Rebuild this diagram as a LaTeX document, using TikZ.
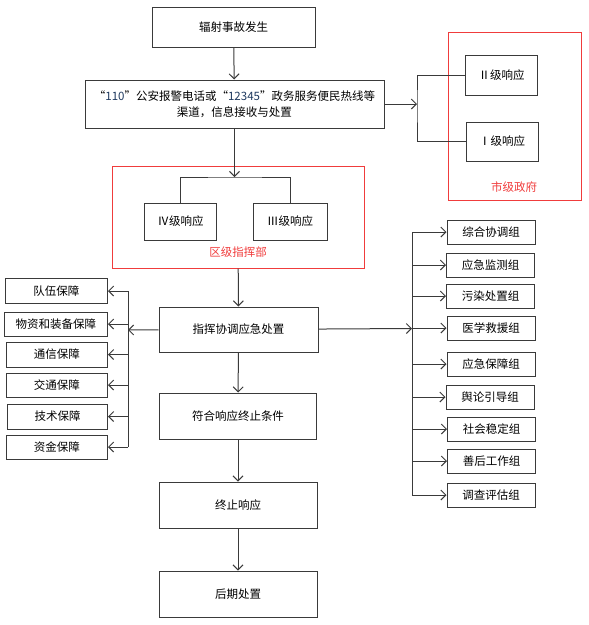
\documentclass[tikz,border=0pt]{standalone}
\usepackage{fontspec}
\setmainfont{Noto Sans CJK SC}
\definecolor{LineGray}{HTML}{3A3A3A}
\definecolor{FrameRed}{HTML}{F03C3C}
\definecolor{DigitBlue}{HTML}{1F3A60}
\usetikzlibrary{arrows.meta,positioning,calc}
\tikzset{
    % Plain boxes
    process/.style={
        rectangle,
        draw=LineGray,
        line width=1pt,
        fill=white,
        text=black,
        minimum width=158pt,
        minimum height=46pt,
        inner sep=0pt,
        align=center,
        font=\fontsize{11.5}{16}\selectfont
    },
    level box/.style={
        process,
        minimum width=72pt,
        minimum height=38pt
    },
    group box/.style={
        process,
        minimum width=88pt,
        minimum height=24pt
    },
    support box/.style={
        process,
        minimum width=102pt,
        minimum height=25pt,
        anchor=east
    },
    region box/.style={
        rectangle,
        draw=FrameRed,
        line width=1pt,
        inner sep=0pt
    },
    region label/.style={
        text=FrameRed,
        inner sep=0pt,
        font=\fontsize{11.5}{14}\selectfont
    },
    arrow/.style={
        -{Straight Barb[length=5pt,width=10pt]},
        line width=1pt,
        color=LineGray
    },
    link/.style={
        line width=1pt,
        color=LineGray
    }
}

\begin{document}
\begin{tikzpicture}[x=1pt, y=-1pt]
        \useasboundingbox (0,0) rectangle (589,625);

        % Red frames
        \node[region box, minimum width=133pt, minimum height=168pt] (city) at (514.5,116) {};
        \node[region label] (citylabel) at (514,187) {市级政府};
        \node[region box, minimum width=252pt, minimum height=102pt] (district) at (238,217) {};
        \node[region label] (districtlabel) at (238,252) {区级指挥部};

        % Main chain
        \node[process, minimum width=163pt, minimum height=40pt] (accident) at (233.5,27) {辐射事故发生};
        \node[process, minimum width=299pt, minimum height=48pt] (receive) at (234.5,104)
              {“{\color{DigitBlue}110}”公安报警电话或“{\color{DigitBlue}12345}”政务服务便民热线等\\渠道，信息接收与处置};
        \node[process, minimum width=159pt, minimum height=45pt] (command) at (238.5,329.5) {指挥协调应急处置};
        \node[process, minimum width=157pt] (meet) at (238,416) {符合响应终止条件};
        \node[process] (stop) at (238,505) {终止响应};
        \node[process] (after) at (238,594) {后期处置};

        % Response levels
        \node[level box, minimum height=40pt] (lvtwo) at (501.5,75) {Ⅱ级响应};
        \node[level box, minimum height=39pt] (lvone) at (502,141.5) {Ⅰ级响应};
        \node[level box, minimum height=37pt] (lvfour) at (180.5,221.5) {Ⅳ级响应};
        \node[level box, minimum height=37pt, minimum width=74pt] (lvthree) at (290,221.5) {Ⅲ级响应};

        % Support
        \node[support box, minimum width=102pt] (team) at (108,291) {队伍保障};
        \node[support box, minimum width=103pt, minimum height=24pt] (supply) at (108,324) {物资和装备保障};
        \node[support box, minimum width=101pt] (comm) at (108,354.5) {通信保障};
        \node[support box, minimum width=101pt, minimum height=24pt] (traffic) at (108,385) {交通保障};
        \node[support box, minimum width=100pt] (tech) at (108,416.5) {技术保障};
        \node[support box, minimum width=101pt, minimum height=24pt] (funds) at (108,447) {资金保障};

        % Working groups
        \node[group box] (coord) at (491,232) {综合协调组};
        \node[group box] (monitor) at (490.5,265) {应急监测组};
        \node[group box] (pollute) at (490.5,296) {污染处置组};
        \node[group box] (medical) at (491,328) {医学救援组};
        \node[group box] (guarantee) at (491,364) {应急保障组};
        \node[group box] (opinion) at (490,397) {舆论引导组};
        \node[group box] (social) at (491.5,429) {社会稳定组};
        \node[group box] (aftercare) at (491.5,461) {善后工作组};
        \node[group box] (survey) at (491,495) {调查评估组};

        % Forks
        \coordinate (cityfork) at (417,104);
        \coordinate (distfork) at (234.5,177);
        \coordinate (leftfork) at (128,330);
        \coordinate (rightfork) at (412,328.5);

        % Arrows
        \draw[arrow] (accident) -- (receive);
        \draw[arrow] (receive) -- (cityfork);
        \draw[link] (lvtwo.west) -| (cityfork) |- (lvone.west);
        \draw[arrow] (receive) -- (distfork);
        \draw[link] (lvfour.north) |- (distfork) -| (lvthree.north);
        \draw[arrow] (district) -- (command);
        \draw[arrow] (command) -- (meet);
        \draw[arrow] (meet) -- (stop);
        \draw[arrow] (stop) -- (after);

        \draw[arrow] (command) -- (leftfork);
        \draw[link] (leftfork |- team.east) -- (leftfork |- funds.east);
        \foreach \s in {team,supply,comm,traffic,tech,funds}
            \draw[arrow] (leftfork |- \s.east) -- (\s.east);

        \draw[arrow] (command) -- (rightfork);
        \draw[link] (rightfork |- coord.west) -- (rightfork |- survey.west);
        \foreach \g in {coord,monitor,pollute,medical,guarantee,opinion,social,aftercare,survey}
            \draw[arrow] (rightfork |- \g.west) -- (\g.west);
    \end{tikzpicture}
\end{document}
